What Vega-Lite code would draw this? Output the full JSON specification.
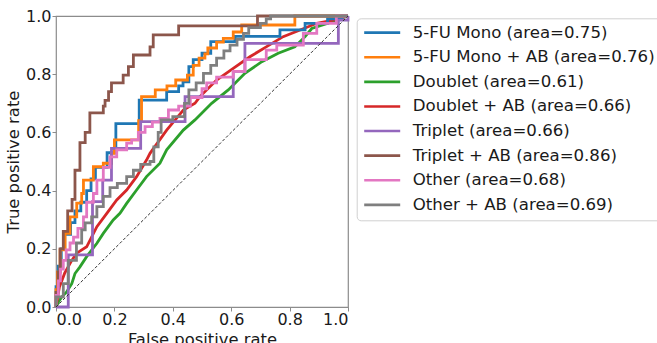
{
  "$schema": "https://vega.github.io/schema/vega-lite/v6.json",
  "width": 292,
  "height": 291,
  "autosize": {"type": "none"},
  "padding": {"left": 56, "top": 16, "right": 309, "bottom": 36},
  "background": "white",
  "config": {
    "view": {"stroke": "#8c8c8c", "strokeWidth": 1.2},
    "font": "DejaVu Sans",
    "axis": {
      "domain": false,
      "grid": false,
      "tickColor": "#8c8c8c",
      "tickSize": 4,
      "labelFont": "DejaVu Sans",
      "labelFontSize": 16,
      "labelColor": "#1a1a1a",
      "titleFont": "DejaVu Sans",
      "titleFontSize": 16.4,
      "titleFontWeight": "normal",
      "titleColor": "#1a1a1a"
    },
    "axisX": {"labelPadding": 0, "titlePadding": 4},
    "axisY": {"labelPadding": 1, "titlePadding": 4}
  },
  "datasets": {
    "stepped": [
      {"model": "5-FU Mono (area=0.75)", "fpr": 0, "tpr": 0},
      {"model": "5-FU Mono (area=0.75)", "fpr": 0, "tpr": 0.07},
      {"model": "5-FU Mono (area=0.75)", "fpr": 0.008, "tpr": 0.14},
      {"model": "5-FU Mono (area=0.75)", "fpr": 0.018, "tpr": 0.2},
      {"model": "5-FU Mono (area=0.75)", "fpr": 0.03, "tpr": 0.25},
      {"model": "5-FU Mono (area=0.75)", "fpr": 0.05, "tpr": 0.29},
      {"model": "5-FU Mono (area=0.75)", "fpr": 0.065, "tpr": 0.33},
      {"model": "5-FU Mono (area=0.75)", "fpr": 0.085, "tpr": 0.36},
      {"model": "5-FU Mono (area=0.75)", "fpr": 0.105, "tpr": 0.4},
      {"model": "5-FU Mono (area=0.75)", "fpr": 0.12, "tpr": 0.44},
      {"model": "5-FU Mono (area=0.75)", "fpr": 0.135, "tpr": 0.48},
      {"model": "5-FU Mono (area=0.75)", "fpr": 0.175, "tpr": 0.53},
      {"model": "5-FU Mono (area=0.75)", "fpr": 0.205, "tpr": 0.63},
      {"model": "5-FU Mono (area=0.75)", "fpr": 0.285, "tpr": 0.711},
      {"model": "5-FU Mono (area=0.75)", "fpr": 0.379, "tpr": 0.74},
      {"model": "5-FU Mono (area=0.75)", "fpr": 0.42, "tpr": 0.76},
      {"model": "5-FU Mono (area=0.75)", "fpr": 0.435, "tpr": 0.774},
      {"model": "5-FU Mono (area=0.75)", "fpr": 0.455, "tpr": 0.826},
      {"model": "5-FU Mono (area=0.75)", "fpr": 0.47, "tpr": 0.85},
      {"model": "5-FU Mono (area=0.75)", "fpr": 0.5, "tpr": 0.872},
      {"model": "5-FU Mono (area=0.75)", "fpr": 0.53, "tpr": 0.912},
      {"model": "5-FU Mono (area=0.75)", "fpr": 0.613, "tpr": 0.93},
      {"model": "5-FU Mono (area=0.75)", "fpr": 0.767, "tpr": 0.952},
      {"model": "5-FU Mono (area=0.75)", "fpr": 0.853, "tpr": 0.975},
      {"model": "5-FU Mono (area=0.75)", "fpr": 0.93, "tpr": 0.99},
      {"model": "5-FU Mono (area=0.75)", "fpr": 0.98, "tpr": 1},
      {"model": "5-FU Mono (area=0.75)", "fpr": 1, "tpr": 1},

      {"model": "5-FU Mono + AB (area=0.76)", "fpr": 0, "tpr": 0},
      {"model": "5-FU Mono + AB (area=0.76)", "fpr": 0, "tpr": 0.06},
      {"model": "5-FU Mono + AB (area=0.76)", "fpr": 0.005, "tpr": 0.12},
      {"model": "5-FU Mono + AB (area=0.76)", "fpr": 0.014, "tpr": 0.196},
      {"model": "5-FU Mono + AB (area=0.76)", "fpr": 0.031, "tpr": 0.253},
      {"model": "5-FU Mono + AB (area=0.76)", "fpr": 0.048, "tpr": 0.31},
      {"model": "5-FU Mono + AB (area=0.76)", "fpr": 0.071, "tpr": 0.357},
      {"model": "5-FU Mono + AB (area=0.76)", "fpr": 0.088, "tpr": 0.39},
      {"model": "5-FU Mono + AB (area=0.76)", "fpr": 0.094, "tpr": 0.436},
      {"model": "5-FU Mono + AB (area=0.76)", "fpr": 0.128, "tpr": 0.482},
      {"model": "5-FU Mono + AB (area=0.76)", "fpr": 0.162, "tpr": 0.494},
      {"model": "5-FU Mono + AB (area=0.76)", "fpr": 0.19, "tpr": 0.528},
      {"model": "5-FU Mono + AB (area=0.76)", "fpr": 0.2, "tpr": 0.574},
      {"model": "5-FU Mono + AB (area=0.76)", "fpr": 0.283, "tpr": 0.64},
      {"model": "5-FU Mono + AB (area=0.76)", "fpr": 0.293, "tpr": 0.723},
      {"model": "5-FU Mono + AB (area=0.76)", "fpr": 0.34, "tpr": 0.746},
      {"model": "5-FU Mono + AB (area=0.76)", "fpr": 0.38, "tpr": 0.76},
      {"model": "5-FU Mono + AB (area=0.76)", "fpr": 0.41, "tpr": 0.78},
      {"model": "5-FU Mono + AB (area=0.76)", "fpr": 0.45, "tpr": 0.797},
      {"model": "5-FU Mono + AB (area=0.76)", "fpr": 0.47, "tpr": 0.83},
      {"model": "5-FU Mono + AB (area=0.76)", "fpr": 0.49, "tpr": 0.855},
      {"model": "5-FU Mono + AB (area=0.76)", "fpr": 0.51, "tpr": 0.87},
      {"model": "5-FU Mono + AB (area=0.76)", "fpr": 0.52, "tpr": 0.89},
      {"model": "5-FU Mono + AB (area=0.76)", "fpr": 0.55, "tpr": 0.91},
      {"model": "5-FU Mono + AB (area=0.76)", "fpr": 0.573, "tpr": 0.923},
      {"model": "5-FU Mono + AB (area=0.76)", "fpr": 0.607, "tpr": 0.945},
      {"model": "5-FU Mono + AB (area=0.76)", "fpr": 0.636, "tpr": 0.969},
      {"model": "5-FU Mono + AB (area=0.76)", "fpr": 0.818, "tpr": 1},
      {"model": "5-FU Mono + AB (area=0.76)", "fpr": 1, "tpr": 1},

      {"model": "Triplet (area=0.66)", "fpr": 0, "tpr": 0},
      {"model": "Triplet (area=0.66)", "fpr": 0.042, "tpr": 0.179},
      {"model": "Triplet (area=0.66)", "fpr": 0.125, "tpr": 0.362},
      {"model": "Triplet (area=0.66)", "fpr": 0.16, "tpr": 0.436},
      {"model": "Triplet (area=0.66)", "fpr": 0.19, "tpr": 0.545},
      {"model": "Triplet (area=0.66)", "fpr": 0.29, "tpr": 0.637},
      {"model": "Triplet (area=0.66)", "fpr": 0.442, "tpr": 0.723},
      {"model": "Triplet (area=0.66)", "fpr": 0.607, "tpr": 0.81},
      {"model": "Triplet (area=0.66)", "fpr": 0.647, "tpr": 0.906},
      {"model": "Triplet (area=0.66)", "fpr": 0.967, "tpr": 0.986},
      {"model": "Triplet (area=0.66)", "fpr": 1, "tpr": 1},

      {"model": "Triplet + AB (area=0.86)", "fpr": 0, "tpr": 0},
      {"model": "Triplet + AB (area=0.86)", "fpr": 0, "tpr": 0.05},
      {"model": "Triplet + AB (area=0.86)", "fpr": 0.007, "tpr": 0.12},
      {"model": "Triplet + AB (area=0.86)", "fpr": 0.014, "tpr": 0.2},
      {"model": "Triplet + AB (area=0.86)", "fpr": 0.025, "tpr": 0.26},
      {"model": "Triplet + AB (area=0.86)", "fpr": 0.04, "tpr": 0.33},
      {"model": "Triplet + AB (area=0.86)", "fpr": 0.055, "tpr": 0.37},
      {"model": "Triplet + AB (area=0.86)", "fpr": 0.065, "tpr": 0.47},
      {"model": "Triplet + AB (area=0.86)", "fpr": 0.082, "tpr": 0.565},
      {"model": "Triplet + AB (area=0.86)", "fpr": 0.1, "tpr": 0.6},
      {"model": "Triplet + AB (area=0.86)", "fpr": 0.116, "tpr": 0.667},
      {"model": "Triplet + AB (area=0.86)", "fpr": 0.162, "tpr": 0.69},
      {"model": "Triplet + AB (area=0.86)", "fpr": 0.168, "tpr": 0.71},
      {"model": "Triplet + AB (area=0.86)", "fpr": 0.18, "tpr": 0.74},
      {"model": "Triplet + AB (area=0.86)", "fpr": 0.19, "tpr": 0.77},
      {"model": "Triplet + AB (area=0.86)", "fpr": 0.23, "tpr": 0.797},
      {"model": "Triplet + AB (area=0.86)", "fpr": 0.248, "tpr": 0.826},
      {"model": "Triplet + AB (area=0.86)", "fpr": 0.265, "tpr": 0.866},
      {"model": "Triplet + AB (area=0.86)", "fpr": 0.322, "tpr": 0.894},
      {"model": "Triplet + AB (area=0.86)", "fpr": 0.333, "tpr": 0.935},
      {"model": "Triplet + AB (area=0.86)", "fpr": 0.42, "tpr": 0.966},
      {"model": "Triplet + AB (area=0.86)", "fpr": 0.69, "tpr": 1},
      {"model": "Triplet + AB (area=0.86)", "fpr": 1, "tpr": 1},

      {"model": "Other (area=0.68)", "fpr": 0, "tpr": 0},
      {"model": "Other (area=0.68)", "fpr": 0, "tpr": 0.04},
      {"model": "Other (area=0.68)", "fpr": 0.008, "tpr": 0.09},
      {"model": "Other (area=0.68)", "fpr": 0.015, "tpr": 0.13},
      {"model": "Other (area=0.68)", "fpr": 0.025, "tpr": 0.16},
      {"model": "Other (area=0.68)", "fpr": 0.035, "tpr": 0.196},
      {"model": "Other (area=0.68)", "fpr": 0.048, "tpr": 0.22},
      {"model": "Other (area=0.68)", "fpr": 0.06, "tpr": 0.24},
      {"model": "Other (area=0.68)", "fpr": 0.075, "tpr": 0.27},
      {"model": "Other (area=0.68)", "fpr": 0.094, "tpr": 0.31},
      {"model": "Other (area=0.68)", "fpr": 0.105, "tpr": 0.36},
      {"model": "Other (area=0.68)", "fpr": 0.128, "tpr": 0.39},
      {"model": "Other (area=0.68)", "fpr": 0.14, "tpr": 0.436},
      {"model": "Other (area=0.68)", "fpr": 0.162, "tpr": 0.48},
      {"model": "Other (area=0.68)", "fpr": 0.185, "tpr": 0.516},
      {"model": "Other (area=0.68)", "fpr": 0.208, "tpr": 0.54},
      {"model": "Other (area=0.68)", "fpr": 0.242, "tpr": 0.563},
      {"model": "Other (area=0.68)", "fpr": 0.259, "tpr": 0.574},
      {"model": "Other (area=0.68)", "fpr": 0.282, "tpr": 0.6},
      {"model": "Other (area=0.68)", "fpr": 0.305, "tpr": 0.62},
      {"model": "Other (area=0.68)", "fpr": 0.33, "tpr": 0.635},
      {"model": "Other (area=0.68)", "fpr": 0.356, "tpr": 0.648},
      {"model": "Other (area=0.68)", "fpr": 0.385, "tpr": 0.677},
      {"model": "Other (area=0.68)", "fpr": 0.42, "tpr": 0.69},
      {"model": "Other (area=0.68)", "fpr": 0.46, "tpr": 0.72},
      {"model": "Other (area=0.68)", "fpr": 0.5, "tpr": 0.75},
      {"model": "Other (area=0.68)", "fpr": 0.516, "tpr": 0.77},
      {"model": "Other (area=0.68)", "fpr": 0.55, "tpr": 0.79},
      {"model": "Other (area=0.68)", "fpr": 0.607, "tpr": 0.81},
      {"model": "Other (area=0.68)", "fpr": 0.647, "tpr": 0.85},
      {"model": "Other (area=0.68)", "fpr": 0.72, "tpr": 0.883},
      {"model": "Other (area=0.68)", "fpr": 0.756, "tpr": 0.9},
      {"model": "Other (area=0.68)", "fpr": 0.847, "tpr": 0.94},
      {"model": "Other (area=0.68)", "fpr": 0.893, "tpr": 0.975},
      {"model": "Other (area=0.68)", "fpr": 0.96, "tpr": 1},
      {"model": "Other (area=0.68)", "fpr": 1, "tpr": 1},

      {"model": "Other + AB (area=0.69)", "fpr": 0, "tpr": 0},
      {"model": "Other + AB (area=0.69)", "fpr": 0, "tpr": 0.035},
      {"model": "Other + AB (area=0.69)", "fpr": 0.025, "tpr": 0.08},
      {"model": "Other + AB (area=0.69)", "fpr": 0.042, "tpr": 0.16},
      {"model": "Other + AB (area=0.69)", "fpr": 0.07, "tpr": 0.22},
      {"model": "Other + AB (area=0.69)", "fpr": 0.088, "tpr": 0.265},
      {"model": "Other + AB (area=0.69)", "fpr": 0.1, "tpr": 0.289},
      {"model": "Other + AB (area=0.69)", "fpr": 0.122, "tpr": 0.31},
      {"model": "Other + AB (area=0.69)", "fpr": 0.14, "tpr": 0.345},
      {"model": "Other + AB (area=0.69)", "fpr": 0.162, "tpr": 0.38},
      {"model": "Other + AB (area=0.69)", "fpr": 0.185, "tpr": 0.41},
      {"model": "Other + AB (area=0.69)", "fpr": 0.21, "tpr": 0.425},
      {"model": "Other + AB (area=0.69)", "fpr": 0.242, "tpr": 0.448},
      {"model": "Other + AB (area=0.69)", "fpr": 0.265, "tpr": 0.47},
      {"model": "Other + AB (area=0.69)", "fpr": 0.29, "tpr": 0.49},
      {"model": "Other + AB (area=0.69)", "fpr": 0.322, "tpr": 0.5},
      {"model": "Other + AB (area=0.69)", "fpr": 0.335, "tpr": 0.55},
      {"model": "Other + AB (area=0.69)", "fpr": 0.35, "tpr": 0.6},
      {"model": "Other + AB (area=0.69)", "fpr": 0.36, "tpr": 0.643},
      {"model": "Other + AB (area=0.69)", "fpr": 0.4, "tpr": 0.654},
      {"model": "Other + AB (area=0.69)", "fpr": 0.44, "tpr": 0.7},
      {"model": "Other + AB (area=0.69)", "fpr": 0.455, "tpr": 0.746},
      {"model": "Other + AB (area=0.69)", "fpr": 0.48, "tpr": 0.77},
      {"model": "Other + AB (area=0.69)", "fpr": 0.505, "tpr": 0.803},
      {"model": "Other + AB (area=0.69)", "fpr": 0.53, "tpr": 0.83},
      {"model": "Other + AB (area=0.69)", "fpr": 0.55, "tpr": 0.855},
      {"model": "Other + AB (area=0.69)", "fpr": 0.575, "tpr": 0.88},
      {"model": "Other + AB (area=0.69)", "fpr": 0.596, "tpr": 0.9},
      {"model": "Other + AB (area=0.69)", "fpr": 0.62, "tpr": 0.92},
      {"model": "Other + AB (area=0.69)", "fpr": 0.642, "tpr": 0.94},
      {"model": "Other + AB (area=0.69)", "fpr": 0.66, "tpr": 0.96},
      {"model": "Other + AB (area=0.69)", "fpr": 0.7, "tpr": 0.975},
      {"model": "Other + AB (area=0.69)", "fpr": 0.72, "tpr": 0.99},
      {"model": "Other + AB (area=0.69)", "fpr": 0.735, "tpr": 1},
      {"model": "Other + AB (area=0.69)", "fpr": 1, "tpr": 1}
    ],
    "smooth": [
      {"model": "Doublet (area=0.61)", "fpr": 0, "tpr": 0},
      {"model": "Doublet (area=0.61)", "fpr": 0.01, "tpr": 0.02},
      {"model": "Doublet (area=0.61)", "fpr": 0.02, "tpr": 0.035},
      {"model": "Doublet (area=0.61)", "fpr": 0.035, "tpr": 0.05},
      {"model": "Doublet (area=0.61)", "fpr": 0.054, "tpr": 0.08},
      {"model": "Doublet (area=0.61)", "fpr": 0.065, "tpr": 0.115},
      {"model": "Doublet (area=0.61)", "fpr": 0.082, "tpr": 0.138},
      {"model": "Doublet (area=0.61)", "fpr": 0.105, "tpr": 0.173},
      {"model": "Doublet (area=0.61)", "fpr": 0.14, "tpr": 0.219},
      {"model": "Doublet (area=0.61)", "fpr": 0.162, "tpr": 0.253},
      {"model": "Doublet (area=0.61)", "fpr": 0.196, "tpr": 0.299},
      {"model": "Doublet (area=0.61)", "fpr": 0.219, "tpr": 0.322},
      {"model": "Doublet (area=0.61)", "fpr": 0.242, "tpr": 0.356},
      {"model": "Doublet (area=0.61)", "fpr": 0.276, "tpr": 0.402},
      {"model": "Doublet (area=0.61)", "fpr": 0.31, "tpr": 0.448},
      {"model": "Doublet (area=0.61)", "fpr": 0.356, "tpr": 0.494},
      {"model": "Doublet (area=0.61)", "fpr": 0.379, "tpr": 0.54},
      {"model": "Doublet (area=0.61)", "fpr": 0.436, "tpr": 0.608},
      {"model": "Doublet (area=0.61)", "fpr": 0.476, "tpr": 0.643},
      {"model": "Doublet (area=0.61)", "fpr": 0.533, "tpr": 0.7},
      {"model": "Doublet (area=0.61)", "fpr": 0.59, "tpr": 0.746},
      {"model": "Doublet (area=0.61)", "fpr": 0.647, "tpr": 0.803},
      {"model": "Doublet (area=0.61)", "fpr": 0.705, "tpr": 0.843},
      {"model": "Doublet (area=0.61)", "fpr": 0.761, "tpr": 0.872},
      {"model": "Doublet (area=0.61)", "fpr": 0.818, "tpr": 0.894},
      {"model": "Doublet (area=0.61)", "fpr": 0.853, "tpr": 0.929},
      {"model": "Doublet (area=0.61)", "fpr": 0.876, "tpr": 0.957},
      {"model": "Doublet (area=0.61)", "fpr": 0.932, "tpr": 0.975},
      {"model": "Doublet (area=0.61)", "fpr": 0.97, "tpr": 0.99},
      {"model": "Doublet (area=0.61)", "fpr": 1, "tpr": 1},

      {"model": "Doublet + AB (area=0.66)", "fpr": 0, "tpr": 0},
      {"model": "Doublet + AB (area=0.66)", "fpr": 0.005, "tpr": 0.03},
      {"model": "Doublet + AB (area=0.66)", "fpr": 0.012, "tpr": 0.07},
      {"model": "Doublet + AB (area=0.66)", "fpr": 0.02, "tpr": 0.09},
      {"model": "Doublet + AB (area=0.66)", "fpr": 0.03, "tpr": 0.117},
      {"model": "Doublet + AB (area=0.66)", "fpr": 0.054, "tpr": 0.16},
      {"model": "Doublet + AB (area=0.66)", "fpr": 0.071, "tpr": 0.185},
      {"model": "Doublet + AB (area=0.66)", "fpr": 0.105, "tpr": 0.207},
      {"model": "Doublet + AB (area=0.66)", "fpr": 0.14, "tpr": 0.276},
      {"model": "Doublet + AB (area=0.66)", "fpr": 0.174, "tpr": 0.322},
      {"model": "Doublet + AB (area=0.66)", "fpr": 0.208, "tpr": 0.368},
      {"model": "Doublet + AB (area=0.66)", "fpr": 0.242, "tpr": 0.402},
      {"model": "Doublet + AB (area=0.66)", "fpr": 0.276, "tpr": 0.448},
      {"model": "Doublet + AB (area=0.66)", "fpr": 0.31, "tpr": 0.505},
      {"model": "Doublet + AB (area=0.66)", "fpr": 0.322, "tpr": 0.528},
      {"model": "Doublet + AB (area=0.66)", "fpr": 0.379, "tpr": 0.608},
      {"model": "Doublet + AB (area=0.66)", "fpr": 0.436, "tpr": 0.677},
      {"model": "Doublet + AB (area=0.66)", "fpr": 0.476, "tpr": 0.7},
      {"model": "Doublet + AB (area=0.66)", "fpr": 0.493, "tpr": 0.723},
      {"model": "Doublet + AB (area=0.66)", "fpr": 0.55, "tpr": 0.78},
      {"model": "Doublet + AB (area=0.66)", "fpr": 0.607, "tpr": 0.82},
      {"model": "Doublet + AB (area=0.66)", "fpr": 0.664, "tpr": 0.86},
      {"model": "Doublet + AB (area=0.66)", "fpr": 0.72, "tpr": 0.894},
      {"model": "Doublet + AB (area=0.66)", "fpr": 0.778, "tpr": 0.929},
      {"model": "Doublet + AB (area=0.66)", "fpr": 0.836, "tpr": 0.952},
      {"model": "Doublet + AB (area=0.66)", "fpr": 0.893, "tpr": 0.975},
      {"model": "Doublet + AB (area=0.66)", "fpr": 0.95, "tpr": 0.986},
      {"model": "Doublet + AB (area=0.66)", "fpr": 1, "tpr": 1}
    ],
    "diagonal": [
      {"fpr": 0, "tpr": 0},
      {"fpr": 1, "tpr": 1}
    ]
  },
  "layer": [
    {
      "data": {"name": "smooth"},
      "mark": {"type": "line", "strokeWidth": 2.8, "interpolate": "linear"},
      "encoding": {
        "x": {"field": "fpr", "type": "quantitative", "scale": {"domain": [0, 1], "nice": false}, "axis": {"values": [0, 0.2, 0.4, 0.6, 0.8, 1], "format": ".1f"}, "title": "False positive rate"},
        "y": {"field": "tpr", "type": "quantitative", "scale": {"domain": [0, 1], "nice": false}, "axis": {"values": [0, 0.2, 0.4, 0.6, 0.8, 1], "format": ".1f"}, "title": "True positive rate"},
        "order": [{"field": "fpr"}, {"field": "tpr"}],
        "color": {
          "field": "model",
          "type": "nominal",
          "scale": {
            "domain": ["5-FU Mono (area=0.75)", "5-FU Mono + AB (area=0.76)", "Doublet (area=0.61)", "Doublet + AB (area=0.66)", "Triplet (area=0.66)", "Triplet + AB (area=0.86)", "Other (area=0.68)", "Other + AB (area=0.69)"],
            "range": ["#1f77b4", "#ff7f0e", "#2ca02c", "#d62728", "#9467bd", "#8c564b", "#e377c2", "#7f7f7f"]
          },
          "legend": {
            "orient": "none",
            "legendX": 300.7,
            "legendY": 2.3,
            "title": null,
            "symbolType": "stroke",
            "symbolSize": 1296,
            "symbolStrokeWidth": 2.6,
            "clipHeight": 16.7,
            "rowPadding": 7.6,
            "padding": 6,
            "labelOffset": 11,
            "labelFont": "DejaVu Sans",
            "labelFontSize": 16.6,
            "labelColor": "#1a1a1a",
            "labelLimit": 400,
            "strokeColor": "#d0d0d0",
            "fillColor": "white",
            "cornerRadius": 4
          }
        }
      }
    },
    {
      "data": {"name": "stepped"},
      "mark": {"type": "line", "strokeWidth": 2.8, "interpolate": "step-after"},
      "encoding": {
        "x": {"field": "fpr", "type": "quantitative", "scale": {"domain": [0, 1], "nice": false}, "axis": {"values": [0, 0.2, 0.4, 0.6, 0.8, 1], "format": ".1f"}, "title": "False positive rate"},
        "y": {"field": "tpr", "type": "quantitative", "scale": {"domain": [0, 1], "nice": false}, "axis": {"values": [0, 0.2, 0.4, 0.6, 0.8, 1], "format": ".1f"}, "title": "True positive rate"},
        "order": [{"field": "fpr"}, {"field": "tpr"}],
        "color": {"field": "model", "type": "nominal"}
      }
    },
    {
      "data": {"name": "diagonal"},
      "mark": {"type": "line", "color": "#333333", "strokeWidth": 1, "strokeDash": [3, 2]},
      "encoding": {
        "x": {"field": "fpr", "type": "quantitative", "title": "False positive rate"},
        "y": {"field": "tpr", "type": "quantitative", "title": "True positive rate"}
      }
    }
  ]
}
